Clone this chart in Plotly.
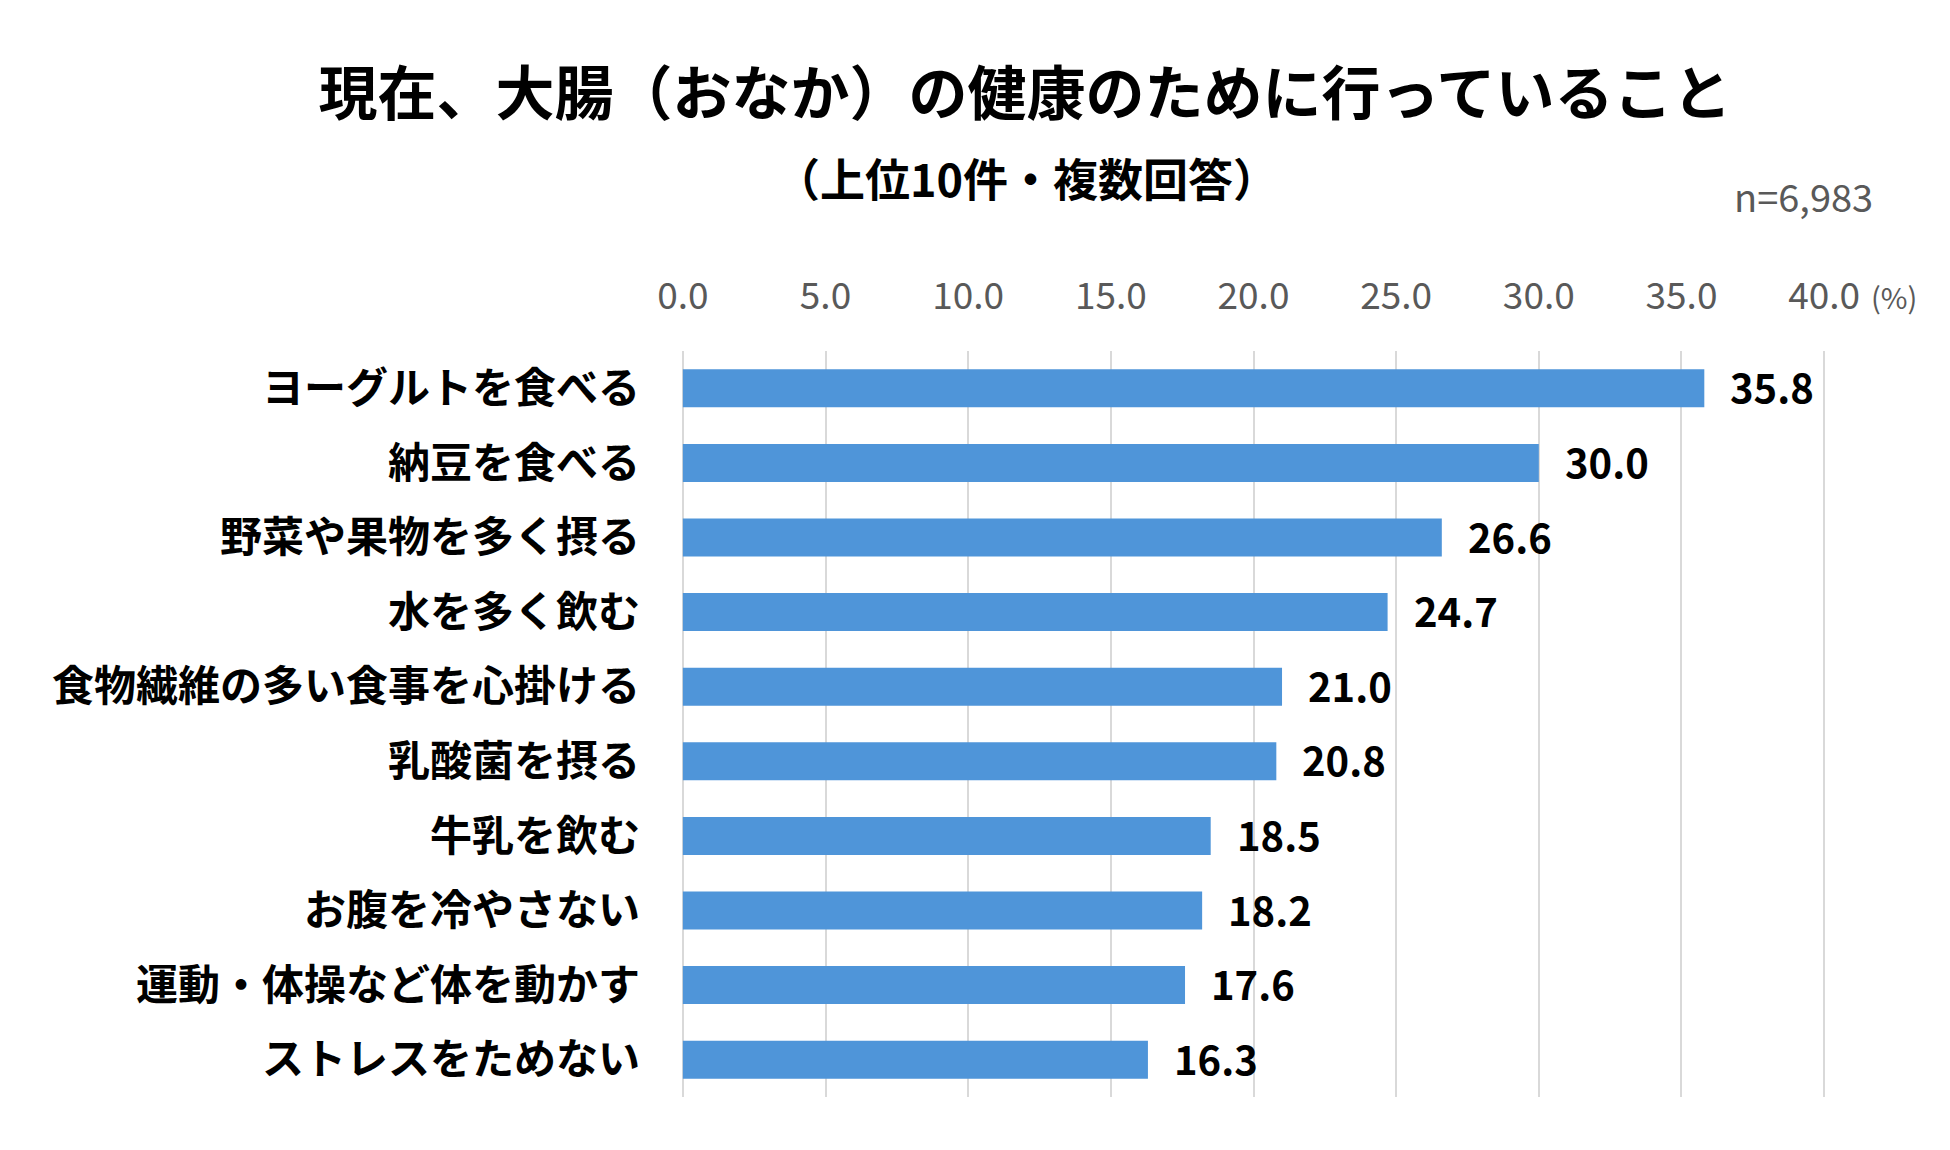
import plotly.graph_objects as go

# Data (top to bottom)
categories = [
    "ヨーグルトを食べる",
    "納豆を食べる",
    "野菜や果物を多く摂る",
    "水を多く飲む",
    "食物繊維の多い食事を心掛ける",
    "乳酸菌を摂る",
    "牛乳を飲む",
    "お腹を冷やさない",
    "運動・体操など体を動かす",
    "ストレスをためない",
]
values = [35.8, 30.0, 26.6, 24.7, 21.0, 20.8, 18.5, 18.2, 17.6, 16.3]
tick_vals = [0, 5, 10, 15, 20, 25, 30, 35, 40]

title_text = "現在、大腸（おなか）の健康のために行っていること"
subtitle_text = "（上位10件・複数回答）"
n_text = "n=6,983"
unit_text = "(%)"

FONT = "Noto Sans CJK JP"
GRAY = "#595959"
BAR_COLOR = "#4f95d9"

fig = go.Figure()

fig.add_trace(go.Bar(
    x=values,
    y=categories,
    orientation="h",
    width=0.51,
    marker=dict(color=BAR_COLOR, line=dict(width=0)),
    hoverinfo="x+y",
))

# value labels to the right of each bar
for cat, val in zip(categories, values):
    fig.add_annotation(
        x=val, y=cat, text=f"{val:.1f}",
        xanchor="left", yanchor="middle", xshift=24, yshift=2,
        showarrow=False,
        font=dict(family=FONT, size=40, color="#000000", weight="bold"),
    )

# subtitle, sample size and unit
fig.add_annotation(
    xref="paper", yref="paper", x=0.3017, y=1.2332,
    text=subtitle_text, showarrow=False,
    xanchor="center", yanchor="middle",
    font=dict(family=FONT, size=45, color="#000000", weight="bold"),
)
fig.add_annotation(
    xref="paper", yref="paper", x=1.0419, y=1.2078,
    text=n_text, showarrow=False,
    xanchor="right", yanchor="middle",
    font=dict(family=FONT, size=38, color=GRAY),
)
fig.add_annotation(
    xref="paper", yref="paper", x=1.0366, y=1.074,
    text=unit_text, showarrow=False,
    xanchor="left", yanchor="middle",
    font=dict(family=FONT, size=29, color=GRAY),
)

fig.update_layout(
    width=1950,
    height=1150,
    paper_bgcolor="white",
    plot_bgcolor="white",
    showlegend=False,
    margin=dict(l=680, r=123, t=351, b=53),
    title=dict(
        text=title_text,
        xref="container", yref="container",
        x=1025 / 1950, y=1 - 94 / 1150,
        xanchor="center", yanchor="middle",
        font=dict(family=FONT, size=59, color="#000000", weight="bold"),
    ),
)

fig.update_xaxes(
    side="top",
    range=[-0.1, 40.1],
    tickvals=tick_vals,
    tickformat=".1f",
    showgrid=True,
    gridcolor="#d9d9d9",
    gridwidth=2,
    zeroline=False,
    showline=False,
    ticks="",
    ticklabelstandoff=34,
    tickfont=dict(family=FONT, size=37, color=GRAY),
)

fig.update_yaxes(
    autorange="reversed",
    showgrid=False,
    zeroline=False,
    showline=False,
    ticks="",
    ticklabelstandoff=39,
    tickfont=dict(family=FONT, size=42, color="#000000", weight="bold"),
)

# drop the default page margin so the figure sits at the window origin
fig.write_html(
    "out.html",
    config={"displayModeBar": False},
    post_script="document.body.style.margin='0';",
)
